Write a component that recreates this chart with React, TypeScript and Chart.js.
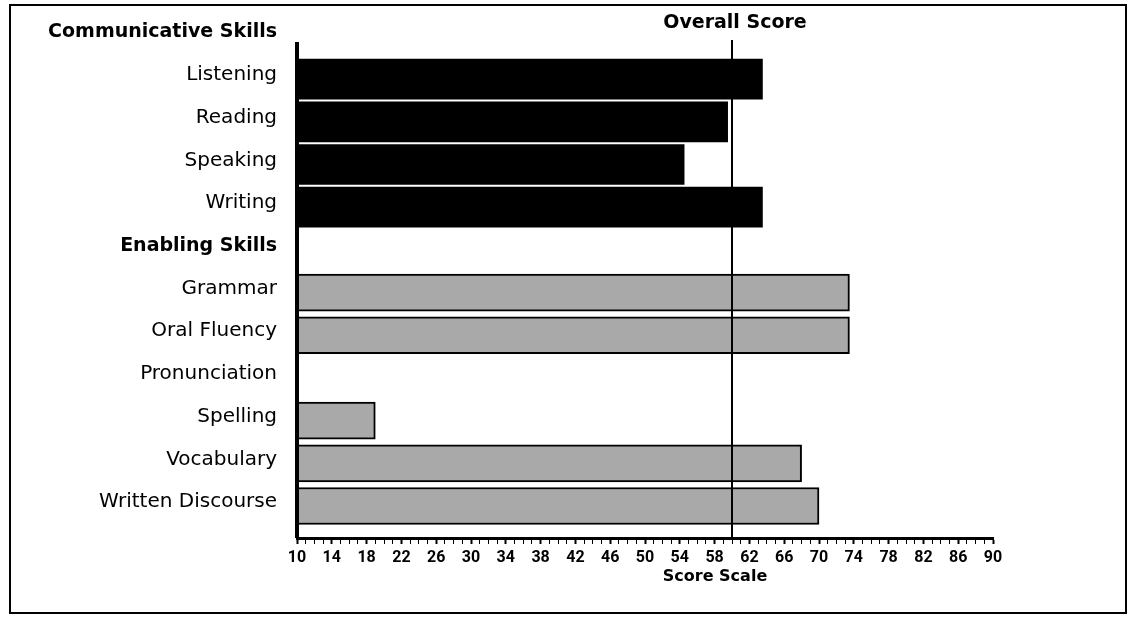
import React, { useEffect, useRef } from "react";
import { Chart, registerables } from "chart.js";

Chart.register(...registerables);

// ---- data ----
const categories = [
  "Communicative Skills",
  "Listening",
  "Reading",
  "Speaking",
  "Writing",
  "Enabling Skills",
  "Grammar",
  "Oral Fluency",
  "Pronunciation",
  "Spelling",
  "Vocabulary",
  "Written Discourse",
];
const headerRows = ["Communicative Skills", "Enabling Skills"];

const communicativeSkills = ["Listening", "Reading", "Speaking", "Writing"];
const communicativeScores = [63.5, 59.5, 54.5, 63.5];

const enablingSkills = ["Grammar", "Oral Fluency", "Pronunciation", "Spelling", "Vocabulary", "Written Discourse"];
const enablingScores: (number | null)[] = [73.5, 73.5, null, 19, 68, 70];

const overallScore = 60;
const overallLabel = "Overall Score";
const axisTitle = "Score Scale";

const scaleMin = 10;
const scaleMax = 90;
const majorTickLabels = [10, 14, 18, 22, 26, 30, 34, 38, 42, 46, 50, 54, 58, 62, 66, 70, 74, 78, 82, 86, 90];

const LABEL_FONT = '"DejaVu Sans", Verdana, sans-serif';
const TICK_FONT = '"Liberation Sans Narrow", "Arial Narrow", Roboto, sans-serif';

const overlayPlugin = {
  id: "overlay",
  afterDatasetsDraw(chart: any) {
    const { ctx, chartArea, scales } = chart;
    const x = scales.x;
    ctx.save();
    ctx.fillStyle = "#000";
    // vertical axis line
    ctx.fillRect(chartArea.left - 2, chartArea.top + 32, 4, chartArea.bottom - chartArea.top - 32);
    // overall score line
    const ox = x.getPixelForValue(overallScore);
    ctx.fillRect(ox - 1, 40, 2, chartArea.bottom - 40);
    ctx.textAlign = "center";
    ctx.textBaseline = "middle";
    ctx.font = "bold 19px " + LABEL_FONT;
    ctx.fillText(overallLabel, ox + 3, 23);
    ctx.font = "bold 16px " + LABEL_FONT;
    ctx.fillText(axisTitle, ox - 17, 577);
    ctx.restore();
  },
};

export default function App() {
  const canvasRef = useRef<HTMLCanvasElement | null>(null);

  useEffect(() => {
    const canvas = canvasRef.current;
    if (!canvas) return;

    const commData = communicativeSkills.map((s, i) => ({ x: communicativeScores[i], y: categories.indexOf(s) }));
    const enabData = enablingSkills.map((s, i) => ({ x: enablingScores[i], y: categories.indexOf(s) }));

    const minorTicks: { value: number }[] = [];
    for (let v = scaleMin; v <= scaleMax; v++) minorTicks.push({ value: v });

    const chart = new Chart(canvas, {
      type: "bar",
      data: {
        datasets: [
          {
            label: "Communicative Skills",
            data: commData as any,
            backgroundColor: "#000",
            borderWidth: 0,
            barThickness: 40,
            grouped: false,
          } as any,
          {
            label: "Enabling Skills",
            data: enabData as any,
            backgroundColor: "#a9a9a9",
            borderColor: "#000",
            borderWidth: 2,
            borderSkipped: false,
            barThickness: 37,
            grouped: false,
          } as any,
        ],
      },
      options: {
        indexAxis: "y",
        animation: false,
        responsive: false,
        maintainAspectRatio: false,
        layout: { padding: { top: 10, right: 140, left: 0, bottom: 0 } },
        plugins: { legend: { display: false }, tooltip: { enabled: false }, title: { display: false } },
        scales: {
          y: {
            type: "linear",
            reverse: true,
            offset: false,
            min: -0.62,
            max: 11.75,
            afterBuildTicks: (s: any) => {
              s.ticks = categories.map((_, i) => ({ value: i }));
            },
            afterFit: (s: any) => {
              s.width = 297;
              s.paddingTop = 0;
              s.paddingBottom = 0;
            },
            grid: { display: false, drawTicks: false, offset: false },
            border: { display: false },
            ticks: {
              autoSkip: false,
              color: "#000",
              padding: 20,
              labelOffset: -4,
              callback: (v: any) => categories[v as number] ?? "",
              font: (ctx: any) => {
                const name = categories[ctx.tick?.value];
                return headerRows.includes(name)
                  ? { family: LABEL_FONT, size: 19, weight: "bold" }
                  : { family: LABEL_FONT, size: 20, weight: "normal" };
              },
            },
          },
          x: {
            type: "linear",
            min: scaleMin,
            max: scaleMax,
            afterBuildTicks: (s: any) => {
              s.ticks = minorTicks.map((t) => ({ ...t }));
            },
            afterFit: (s: any) => {
              s.height = 80;
            },
            grid: {
              drawOnChartArea: false,
              tickLength: 6,
              color: "#000",
              tickColor: "#000",
              tickWidth: (ctx: any) => (majorTickLabels.includes(ctx.tick?.value) ? 2 : 1),
            },
            border: { display: true, color: "#000", width: 3 },
            ticks: {
              autoSkip: false,
              maxRotation: 0,
              color: "#000",
              padding: 4,
              callback: (v: any) => (majorTickLabels.includes(v as number) ? String(v) : ""),
              font: { family: TICK_FONT, size: 16, weight: "bold" },
            },
          },
        },
      },
      plugins: [overlayPlugin],
    });

    return () => chart.destroy();
  }, []);

  return (
    <div style={{ position: "absolute", left: 0, top: 0, width: 1133, height: 618, background: "#fff" }}>
      <canvas ref={canvasRef} width={1133} height={618} style={{ position: "absolute", left: 0, top: 0 }} />
      <div
        style={{
          position: "absolute",
          left: 9,
          top: 4,
          width: 1118,
          height: 610,
          border: "2px solid #000",
          boxSizing: "border-box",
          pointerEvents: "none",
        }}
      />
    </div>
  );
}
